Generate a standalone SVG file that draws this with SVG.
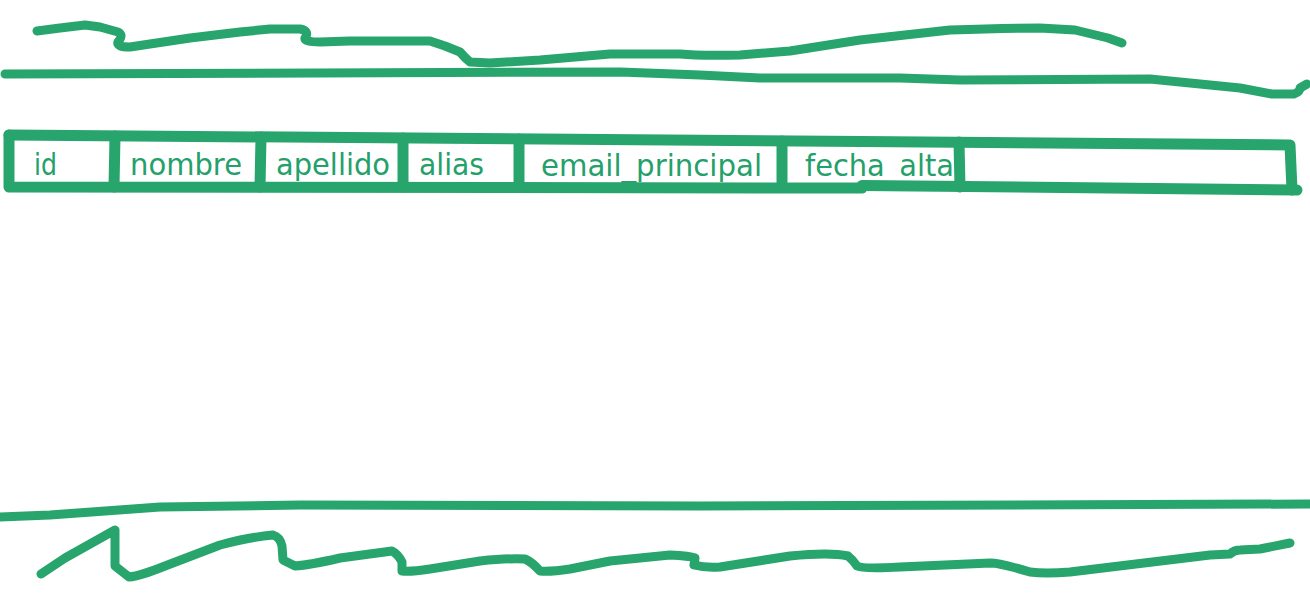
<svg xmlns="http://www.w3.org/2000/svg" width="1310" height="600" viewBox="0 0 1310 600">
<style>
.ln{fill:none;stroke:#28a56c;stroke-width:9;stroke-linecap:round;stroke-linejoin:round}
.bd{fill:none;stroke:#28a56c;stroke-width:11;stroke-linecap:round;stroke-linejoin:round}
.lbl{font-family:"DejaVu Sans","Liberation Sans",sans-serif;font-size:30px;fill:#24a06a}
</style>
<rect width="1310" height="600" fill="#ffffff"/>
<g id="sketch-top">
<path class="ln" d="M37,31 L60,28 L85,25 L100,27 L118,32 Q124,35 118,42 Q116,47 130,47 L190,38 L240,32 L270,29 L300,29 Q310,31 305,38 Q304,42 320,42 L350,41 L430,41 L445,46 L460,52 Q465,58 470,62 L490,63 L540,60 L610,54 L680,54 Q700,56 740,55 L790,51 L860,40 L950,30 Q1000,28 1040,28 L1075,30 L1108,38 L1122,43"/>
<path class="ln" d="M5,74 L620,72 L700,75 L760,78 L900,78 L960,80 L1150,79 L1240,88 L1272,94 L1294,94 Q1300,92 1300,88 L1307,84"/>
</g>
<g id="sketch-bottom">
<path class="ln" d="M0,517 L50,515 L160,507 L300,505 L700,506 L1310,504"/>
<path class="ln" d="M41,574 L65,558 L115,530 L115,566 L129,577 Q140,576 165,566 L220,545 Q250,537 273,535 Q280,537 282,546 L283,560 L295,566 Q310,565 340,558 L392,551 Q398,554 402,562 L402,571 Q410,572 430,569 L480,561 Q510,558 525,559 Q532,562 540,571 Q550,572 570,569 L610,561 L670,555 Q690,556 695,558 L694,565 Q705,568 720,567 L790,556 Q830,552 848,556 Q853,560 857,566 Q862,569 900,567 L990,563 Q1000,563 1030,572 Q1045,574 1070,572 L1210,555 L1230,554 Q1234,550 1240,550 L1260,549 L1290,543"/>
</g>
<g id="table-row">
<g id="cell-id"><text class="lbl" x="34" y="175" textLength="23" lengthAdjust="spacingAndGlyphs">id</text></g>
<g id="cell-nombre"><text class="lbl" x="130" y="175" textLength="112" lengthAdjust="spacingAndGlyphs">nombre</text></g>
<g id="cell-apellido"><text class="lbl" x="276" y="175" textLength="114" lengthAdjust="spacingAndGlyphs">apellido</text></g>
<g id="cell-alias"><text class="lbl" x="419" y="175" textLength="65" lengthAdjust="spacingAndGlyphs">alias</text></g>
<g id="cell-email_principal"><text class="lbl" x="541" y="176" textLength="221" lengthAdjust="spacingAndGlyphs">email_principal</text></g>
<g id="cell-fecha_alta"><text class="lbl" x="805" y="176" textLength="149" lengthAdjust="spacingAndGlyphs">fecha_alta</text></g>
<g id="cell-empty"></g>
<g id="row-borders">
<path class="bd" d="M9,135 L862,141.5 L1290,145 L1292,190"/>
<path class="bd" d="M9,135 L9,187 L862,188"/>
<path class="bd" d="M862,185.5 L1297,190"/>
<path class="bd" d="M115,136 L114,187"/>
<path class="bd" d="M261,137 L260,187"/>
<path class="bd" d="M403,138 L403,187"/>
<path class="bd" d="M519,139 L519,187"/>
<path class="bd" d="M782,141 L782,187"/>
<path class="bd" d="M959,142 L960,187"/>
</g>
</g>
</svg>
